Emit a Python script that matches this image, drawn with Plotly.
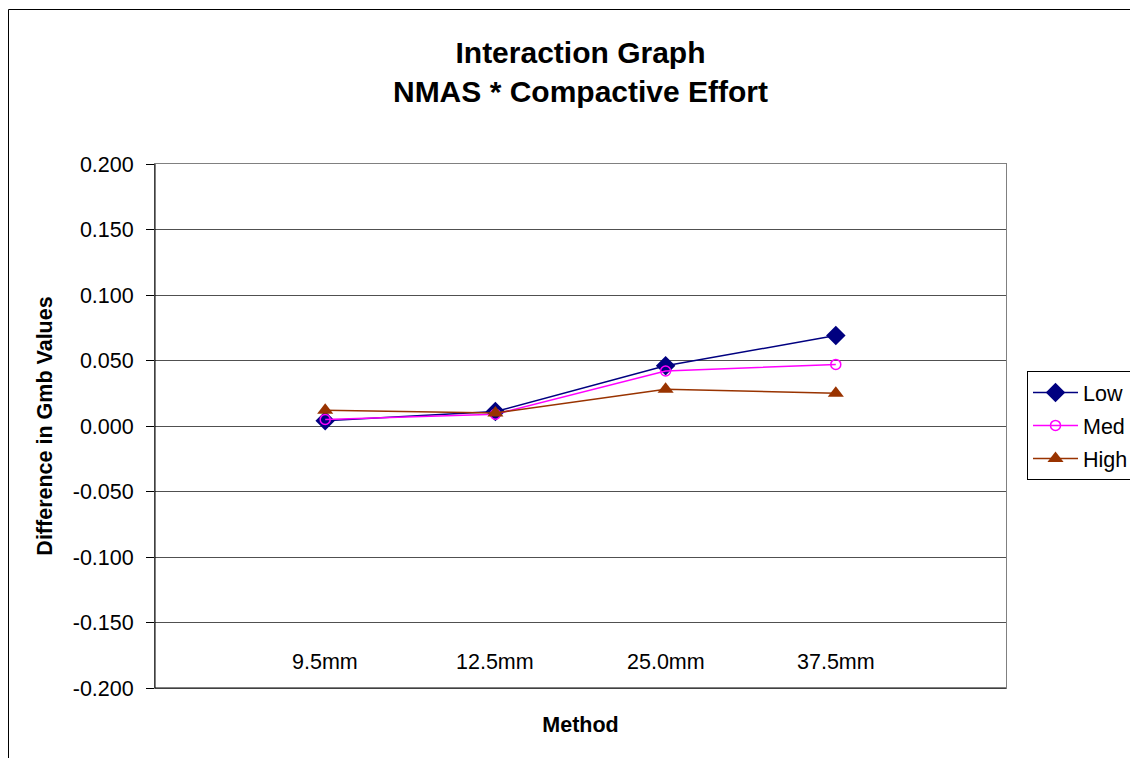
import plotly.graph_objects as go

categories = ["9.5mm", "12.5mm", "25.0mm", "37.5mm"]
cat_pos = [1, 2, 3, 4]
low = [0.004, 0.011, 0.046, 0.069]
med = [0.005, 0.009, 0.042, 0.047]
high = [0.012, 0.010, 0.028, 0.025]
y_ticks = [0.2, 0.15, 0.1, 0.05, 0.0, -0.05, -0.1, -0.15, -0.2]
y_tick_text = ["0.200", "0.150", "0.100", "0.050", "0.000", "-0.050", "-0.100", "-0.150", "-0.200"]

FONT = "Liberation Sans, Arial, sans-serif"
FS = 21.5

fig = go.Figure()
fig.add_trace(go.Scatter(x=cat_pos, y=low, name="Low", mode="lines+markers",
                         line=dict(color="#000080", width=1.5),
                         marker=dict(symbol="diamond", size=15, color="#000080"),
                         legendgroup="a"))
fig.add_trace(go.Scatter(x=cat_pos, y=med, name="Med", mode="lines+markers",
                         line=dict(color="#FF00FF", width=1.5),
                         marker=dict(symbol="circle-open", size=10, color="#FF00FF", line=dict(width=1.5)),
                         legendgroup="b"))
fig.add_trace(go.Scatter(x=cat_pos, y=high, name="High", mode="lines+markers",
                         line=dict(color="#993300", width=1.5),
                         marker=dict(symbol="triangle-up", size=14, color="#993300"),
                         legendgroup="c"))

L, R, T, B = 155, 124, 164, 70
W, H = 1130, 758
pw, ph = W - L - R, H - T - B

fig.update_layout(
    width=W, height=H,
    margin=dict(l=L, r=R, t=T, b=B, autoexpand=False),
    paper_bgcolor="white", plot_bgcolor="white",
    font=dict(family=FONT, size=FS, color="black"),
    title=dict(text="<b>Interaction Graph<br>NMAS * Compactive Effort</b>",
               x=(L + pw / 2) / W, xanchor="center", y=1 - 63 / H, yanchor="middle",
               font=dict(size=30, family=FONT, color="black")),
    legend=dict(x=(1027 - L) / pw, xanchor="left", y=(H - B - 371) / ph, yanchor="top",
                bordercolor="black", borderwidth=1, bgcolor="white",
                font=dict(size=FS, family=FONT, color="black"), tracegroupgap=2, itemwidth=45),
    showlegend=True,
)

fig.update_xaxes(range=[0, 5], tickvals=cat_pos, showticklabels=False, ticks="",
                 showgrid=False, zeroline=False, showline=True, linecolor="#808080", linewidth=1,
                 mirror=True,
                 title=dict(text="<b>Method</b>", font=dict(size=FS, family=FONT, color="black"), standoff=28))
fig.update_yaxes(range=[-0.2, 0.2], tickvals=y_ticks, ticktext=y_tick_text,
                 ticks="outside", ticklen=8, tickcolor="black", ticklabelstandoff=8,
                 showgrid=True, gridcolor="#505050", gridwidth=1,
                 zeroline=False, showline=True, linecolor="#808080", linewidth=1, mirror=True,
                 tickfont=dict(size=FS, family=FONT, color="black"),
                 title=dict(text="<b>Difference in Gmb Values</b>", font=dict(size=FS, family=FONT, color="black"), standoff=14))

# category labels sit inside the plot area, just above the bottom axis
for xv, lab in zip(cat_pos, categories):
    fig.add_annotation(x=xv, xref="x", y=0, yref="paper", yanchor="middle", yshift=26,
                       text=lab, showarrow=False, font=dict(size=FS, family=FONT, color="black"))

# left and bottom axis lines in black
fig.add_shape(type="line", xref="paper", yref="paper", x0=0, x1=0, y0=0, y1=1,
              line=dict(color="black", width=1))
fig.add_shape(type="line", xref="paper", yref="paper", x0=0, x1=1, y0=0, y1=0,
              line=dict(color="black", width=1))

# outer chart frame (extends past viewport at right and bottom)
fx0 = (8.5 - L) / pw
fy1 = 1 + (T - 9.5) / ph
fig.add_shape(type="line", xref="paper", yref="paper", x0=fx0, x1=fx0, y0=-0.5, y1=fy1,
              line=dict(color="black", width=1))
fig.add_shape(type="line", xref="paper", yref="paper", x0=fx0, x1=1.5, y0=fy1, y1=fy1,
              line=dict(color="black", width=1))

fig.write_html("out.html")
